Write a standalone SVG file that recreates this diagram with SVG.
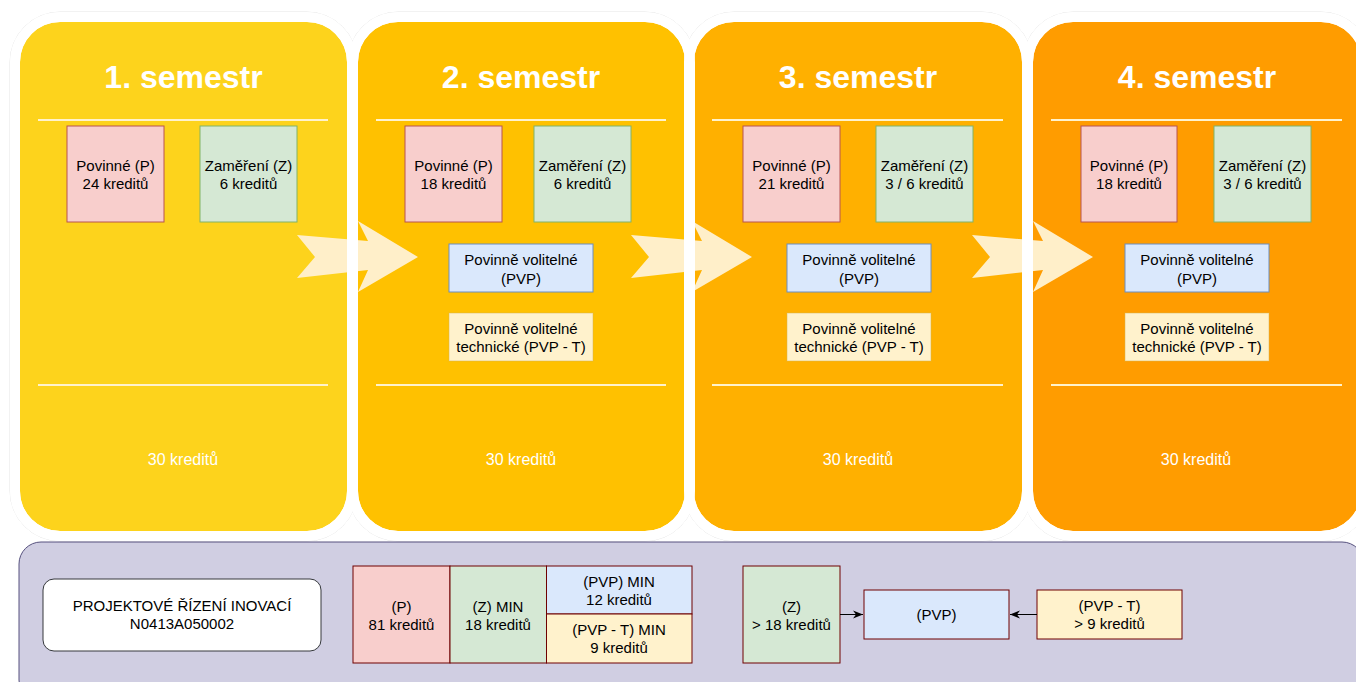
<svg xmlns="http://www.w3.org/2000/svg" width="1356" height="682" viewBox="0 0 1356 682">
<defs>
<style>
.t{font-family:"Liberation Sans",Arial,sans-serif;font-size:15px;fill:#000;text-anchor:middle}
.title{font-family:"Liberation Sans",Arial,sans-serif;font-size:32px;font-weight:bold;fill:#fff;text-anchor:middle}
.cr{font-family:"Liberation Sans",Arial,sans-serif;font-size:16px;fill:#fff;text-anchor:middle}
.sep{stroke:#FFF2CC;stroke-width:2}
.border{fill:none;stroke:#fff;stroke-width:10}
.shadow{fill:none;stroke:#000;stroke-opacity:0.1;stroke-width:1}
.red{fill:#F8CECC;stroke:#B85450;stroke-width:1}
.green{fill:#D5E8D4;stroke:#82B366;stroke-width:1}
.blue{fill:#DAE8FC;stroke:#6C8EBF;stroke-width:1}
.yel{fill:#FFF2CC;stroke:#D6B656;stroke-width:1;stroke-opacity:0.5}
.arrow{fill:#FFEFC9}
.cell{stroke:#6F0000;stroke-width:1}
.conn{stroke:#000;stroke-width:1;fill:none}
</style>
<marker id="ah" viewBox="0 0 10 10" refX="10" refY="5" markerWidth="10" markerHeight="10" orient="auto" markerUnits="userSpaceOnUse">
<path d="M0,1 L10,5 L0,9 L3,5 Z" fill="#000"/>
</marker>
</defs>
<rect x="0" y="0" width="1356" height="682" fill="#fff"/>

<g id="shadows">
<rect class="shadow" x="10" y="12" width="347" height="529" rx="50"/>
<rect class="shadow" x="348" y="12" width="347" height="529" rx="50"/>
<rect class="shadow" x="684" y="12" width="348" height="529" rx="50"/>
<rect class="shadow" x="1023" y="12" width="348" height="529" rx="50"/>
</g>
<g id="panel1">
<rect x="20" y="22" width="327" height="509" rx="40" fill="#FDD31C"/>
<text class="title" x="183.5" y="88">1. semestr</text>
<line class="sep" x1="38" y1="120" x2="328" y2="120"/>
<line class="sep" x1="38" y1="385" x2="328" y2="385"/>
<text class="cr" x="183" y="465">30 kreditů</text>
</g>
<g id="panel2">
<rect x="358" y="22" width="327" height="509" rx="40" fill="#FFC100"/>
<text class="title" x="521" y="88">2. semestr</text>
<line class="sep" x1="376" y1="120" x2="666" y2="120"/>
<line class="sep" x1="376" y1="385" x2="666" y2="385"/>
<text class="cr" x="521" y="465">30 kreditů</text>
</g>
<g id="panel3">
<rect x="694" y="22" width="328" height="509" rx="40" fill="#FFB000"/>
<text class="title" x="858" y="88">3. semestr</text>
<line class="sep" x1="712" y1="120" x2="1003" y2="120"/>
<line class="sep" x1="712" y1="385" x2="1003" y2="385"/>
<text class="cr" x="858" y="465">30 kreditů</text>
</g>
<g id="panel4">
<rect x="1033" y="22" width="328" height="509" rx="40" fill="#FF9C00"/>
<text class="title" x="1197" y="88">4. semestr</text>
<line class="sep" x1="1051" y1="120" x2="1342" y2="120"/>
<line class="sep" x1="1051" y1="385" x2="1342" y2="385"/>
<text class="cr" x="1196" y="465">30 kreditů</text>
</g>

<g id="arrows">
<polygon class="arrow" points="297,235 368,241 358,221 418,257 358,292 368,270 297,278 315,257"/>
<polygon class="arrow" points="631,235 702,241 692,221 752,257 692,292 702,270 631,278 649,257"/>
<polygon class="arrow" points="972,235 1043,241 1033,221 1093,257 1033,292 1043,270 972,278 990,257"/>
</g>

<g id="borders">
<rect class="border" x="15" y="17" width="337" height="519" rx="45"/>
<rect class="border" x="353" y="17" width="337" height="519" rx="45"/>
<rect class="border" x="689" y="17" width="338" height="519" rx="45"/>
<rect class="border" x="1028" y="17" width="338" height="519" rx="45"/>
</g>

<g id="s1-p"><rect class="red" x="67" y="126" width="97" height="96"/><text class="t" x="115.5" y="170.5">Povinné (P)</text><text class="t" x="115.5" y="188.5">24 kreditů</text></g>
<g id="s1-z"><rect class="green" x="200" y="126" width="97" height="96"/><text class="t" x="248.5" y="170.5">Zaměření (Z)</text><text class="t" x="248.5" y="188.5">6 kreditů</text></g>

<g id="s2-p"><rect class="red" x="405" y="126" width="97" height="96"/><text class="t" x="453.5" y="170.5">Povinné (P)</text><text class="t" x="453.5" y="188.5">18 kreditů</text></g>
<g id="s2-z"><rect class="green" x="534" y="126" width="97" height="96"/><text class="t" x="582.5" y="170.5">Zaměření (Z)</text><text class="t" x="582.5" y="188.5">6 kreditů</text></g>
<g id="s2-pvp"><rect class="blue" x="449" y="244" width="144" height="48"/><text class="t" x="521" y="265">Povinně volitelné</text><text class="t" x="521" y="284">(PVP)</text></g>
<g id="s2-pvpt"><rect class="yel" x="449" y="313" width="144" height="48"/><text class="t" x="521" y="333.5">Povinně volitelné</text><text class="t" x="521" y="351.5">technické (PVP - T)</text></g>

<g id="s3-p"><rect class="red" x="743" y="126" width="97" height="96"/><text class="t" x="791.5" y="170.5">Povinné (P)</text><text class="t" x="791.5" y="188.5">21 kreditů</text></g>
<g id="s3-z"><rect class="green" x="876" y="126" width="97" height="96"/><text class="t" x="924.5" y="170.5">Zaměření (Z)</text><text class="t" x="924.5" y="188.5">3 / 6 kreditů</text></g>
<g id="s3-pvp"><rect class="blue" x="787" y="244" width="144" height="48"/><text class="t" x="859" y="265">Povinně volitelné</text><text class="t" x="859" y="284">(PVP)</text></g>
<g id="s3-pvpt"><rect class="yel" x="787" y="313" width="144" height="48"/><text class="t" x="859" y="333.5">Povinně volitelné</text><text class="t" x="859" y="351.5">technické (PVP - T)</text></g>

<g id="s4-p"><rect class="red" x="1081" y="126" width="96" height="96"/><text class="t" x="1129" y="170.5">Povinné (P)</text><text class="t" x="1129" y="188.5">18 kreditů</text></g>
<g id="s4-z"><rect class="green" x="1214" y="126" width="97" height="96"/><text class="t" x="1262.5" y="170.5">Zaměření (Z)</text><text class="t" x="1262.5" y="188.5">3 / 6 kreditů</text></g>
<g id="s4-pvp"><rect class="blue" x="1125" y="244" width="144" height="48"/><text class="t" x="1197" y="265">Povinně volitelné</text><text class="t" x="1197" y="284">(PVP)</text></g>
<g id="s4-pvpt"><rect class="yel" x="1125" y="313" width="144" height="48"/><text class="t" x="1197" y="333.5">Povinně volitelné</text><text class="t" x="1197" y="351.5">technické (PVP - T)</text></g>

<g id="summary">
<rect x="19" y="542" width="1345" height="160" rx="22" fill="#D0CEE2" stroke="#56517E" stroke-width="1"/>
</g>
<g id="program"><rect x="43" y="579" width="278" height="72" rx="11" fill="#fff" stroke="#36393D" stroke-width="1"/><text class="t" x="182" y="611">PROJEKTOVÉ ŘÍZENÍ INOVACÍ</text><text class="t" x="182" y="629">N0413A050002</text></g>
<g id="tbl-p"><rect class="cell" x="353" y="566" width="97" height="97" fill="#F8CECC"/><text class="t" x="401.5" y="612">(P)</text><text class="t" x="401.5" y="630">81 kreditů</text></g>
<g id="tbl-z"><rect class="cell" x="450" y="566" width="96.5" height="97" fill="#D5E8D4"/><text class="t" x="498" y="612">(Z) MIN</text><text class="t" x="498" y="630">18 kreditů</text></g>
<g id="tbl-pvp"><rect class="cell" x="546.5" y="566" width="145.5" height="48" fill="#DAE8FC"/><text class="t" x="619" y="587">(PVP) MIN</text><text class="t" x="619" y="605">12 kreditů</text></g>
<g id="tbl-pvpt"><rect class="cell" x="546.5" y="614" width="145.5" height="49" fill="#FFF2CC"/><text class="t" x="619" y="635">(PVP - T) MIN</text><text class="t" x="619" y="653">9 kreditů</text></g>
<g id="b-z"><rect class="cell" x="743" y="566" width="97" height="97" fill="#D5E8D4"/><text class="t" x="791.5" y="612">(Z)</text><text class="t" x="791.5" y="630">&gt; 18 kreditů</text></g>
<g id="b-pvp"><rect class="cell" x="864" y="590" width="145" height="49" fill="#DAE8FC"/><text class="t" x="936.5" y="619.5">(PVP)</text></g>
<g id="b-pvpt"><rect class="cell" x="1037" y="590" width="145" height="49" fill="#FFF2CC"/><text class="t" x="1109.5" y="611">(PVP - T)</text><text class="t" x="1109.5" y="629">&gt; 9 kreditů</text></g>

<g id="connectors">
<line class="conn" x1="840" y1="614.5" x2="863" y2="614.5" marker-end="url(#ah)"/>
<line class="conn" x1="1037" y1="614.5" x2="1010" y2="614.5" marker-end="url(#ah)"/>
</g>
</svg>
